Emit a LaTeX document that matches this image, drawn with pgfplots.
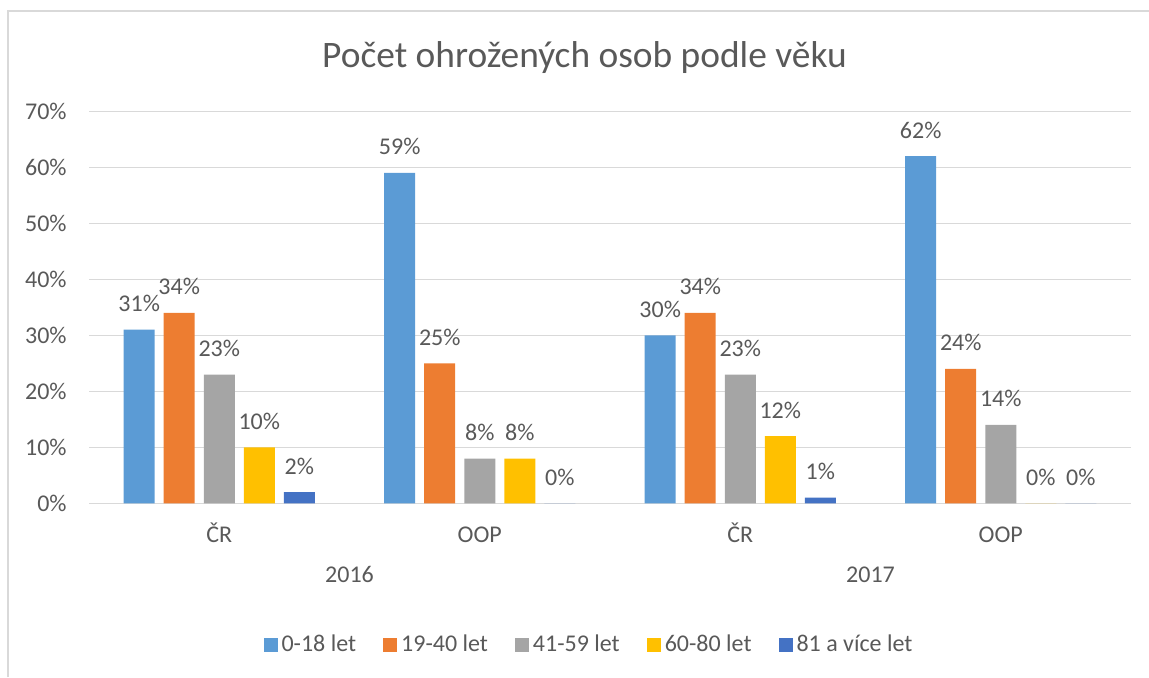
\documentclass[border=0pt]{standalone}
\usepackage{fontspec}
\setmainfont{Carlito}
\usepackage{pgfplots}
\pgfplotsset{compat=1.18}
\definecolor{cA}{HTML}{5B9BD5}
\definecolor{cB}{HTML}{ED7D31}
\definecolor{cC}{HTML}{A5A5A5}
\definecolor{cD}{HTML}{FFC000}
\definecolor{cE}{HTML}{4472C4}
\definecolor{txt}{HTML}{595959}
\definecolor{grd}{HTML}{D9D9D9}
\begin{document}
\begin{tikzpicture}
\path[use as bounding box] (0pt,0pt) rectangle (574.5pt,-338.5pt);
\draw[grd, line width=0.75pt] (4pt,-338.5pt) -- (4pt,-5.5pt) -- (574.5pt,-5.5pt);
\node[anchor=base, text=txt, font=\fontsize{18.7pt}{22pt}\selectfont] at (292.25pt,-33.85pt) {Počet ohrožených osob podle věku};
\begin{axis}[
  at={(44.5pt,-251.65pt)}, anchor=south west,
  scale only axis, width=521pt, height=196pt,
  clip=false,
  ybar,
  xmin=-0.5, xmax=3.5, ymin=0, ymax=70,
  xtick={0,1,2,3}, xticklabels={ČR,OOP,ČR,OOP},
  ytick={0,10,20,30,40,50,60,70},
  yticklabel={\pgfmathprintnumber{\tick}\%},
  /pgf/number format/assume math mode=true,
  ymajorgrids, grid style={grd, line width=0.75pt},
  axis line style={draw=none},
  major tick length=0pt,
  tick style={draw=none},
  ticklabel style={text=txt, font=\fontsize{12pt}{14pt}\selectfont},
  yticklabel style={anchor=east, inner sep=0pt, xshift=-11pt},
  xticklabel style={anchor=base, inner sep=0pt, yshift=-19.5pt},
  bar width=0.119,
  nodes near coords={\pgfmathprintnumber{\pgfplotspointmeta}\%},
  every node near coord/.append style={anchor=base, inner sep=0pt, yshift=9pt, text=txt, font=\fontsize{12pt}{14pt}\selectfont},
  legend columns=5,
  legend style={at={(0.4789,-0.3615)}, anchor=center, draw=none, fill=none,
    font=\fontsize{12pt}{14pt}\selectfont, text=txt,
    /tikz/every even column/.append style={column sep=13.5pt},
    nodes={inner sep=0pt}},
  sq/.style={legend image code/.code={\fill[##1] (0pt,-3.5pt) rectangle (7pt,3.5pt);}},
]
\addplot[fill=cA, draw=none, bar shift=-0.3072, sq] coordinates {(0,31) (1,59) (2,30) (3,62)};
\addplot[fill=cB, draw=none, bar shift=-0.1536, sq] coordinates {(0,34) (1,25) (2,34) (3,24)};
\addplot[fill=cC, draw=none, bar shift=0, sq] coordinates {(0,23) (1,8) (2,23) (3,14)};
\addplot[fill=cD, draw=none, bar shift=0.1536, sq] coordinates {(0,10) (1,8) (2,12) (3,0)};
\addplot[fill=cE, draw=none, bar shift=0.3072, sq] coordinates {(0,2) (1,0) (2,1) (3,0)};
\legend{\,0-18 let, \,19-40 let, \,41-59 let, \,60-80 let, \,81 a více let}
\node[anchor=base, text=txt, font=\fontsize{12pt}{14pt}\selectfont, yshift=-39.5pt] at (axis cs:0.5,0) {2016};
\node[anchor=base, text=txt, font=\fontsize{12pt}{14pt}\selectfont, yshift=-39.5pt] at (axis cs:2.5,0) {2017};
\end{axis}
\end{tikzpicture}
\end{document}
